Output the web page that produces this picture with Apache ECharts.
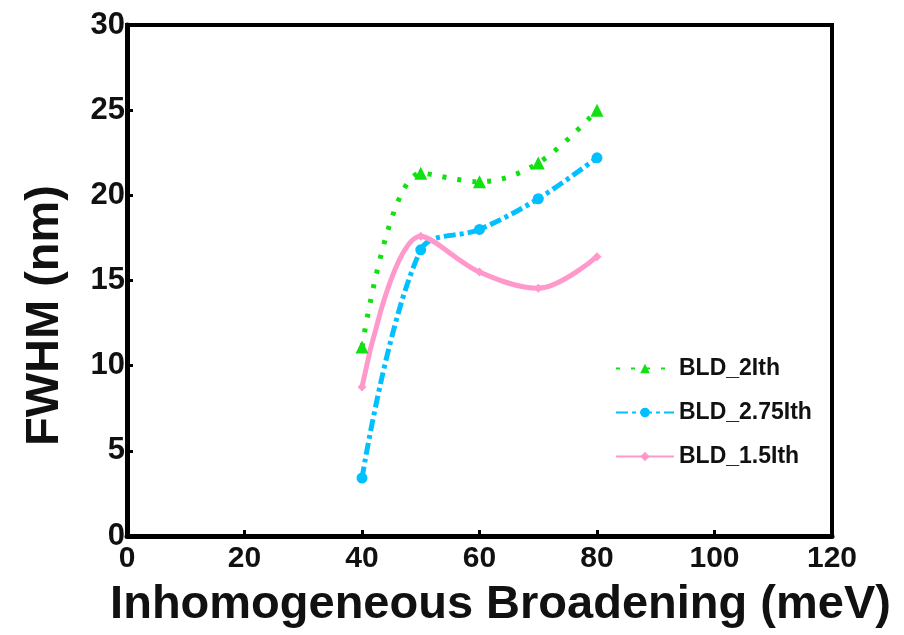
<!DOCTYPE html>
<html><head><meta charset="utf-8">
<script src="https://cdn.jsdelivr.net/npm/echarts@6/dist/echarts.min.js"></script>
<style>html,body{margin:0;padding:0;background:#fff}#c{width:904px;height:635px}</style>
</head><body><div id="c"></div>
<script>
var xValues = [40, 50, 60, 70, 80];
var bld2 = [11.1, 21.3, 20.8, 21.9, 25.0];
var bld275 = [3.4, 16.8, 18.0, 19.8, 22.2];
var bld15 = [8.75, 17.6, 15.5, 14.55, 16.4];
var seriesNames = ['BLD_2Ith', 'BLD_2.75Ith', 'BLD_1.5Ith'];

function pairs(ys){ return xValues.map(function(x,i){ return [x, ys[i]]; }); }
var font = '"Liberation Sans", Arial, sans-serif';
var chart = echarts.init(document.getElementById('c'), null, {renderer:'canvas'});
chart.setOption({
  animation: false,
  backgroundColor: '#fff',
  grid: {left:127, right:72, top:25, bottom:99, show:true, borderColor:'#000', borderWidth:4, backgroundColor:'transparent'},
  legend: {
    orient:'vertical', left:610, top:352, itemGap:21, itemWidth:58, itemHeight:12,
    textStyle:{fontFamily:font, fontWeight:'bold', fontSize:23, color:'#111'},
    data: seriesNames
  },
  xAxis: {
    type:'value', min:0, max:120, interval:20,
    name:'Inhomogeneous Broadening (meV)', nameLocation:'middle', nameGap:46,
    nameTextStyle:{fontFamily:font, fontWeight:'bold', fontSize:47, color:'#111', padding:[0,0,0,42]},
    axisLine:{lineStyle:{color:'#000', width:5}},
    axisTick:{inside:true, length:6, lineStyle:{width:3, color:'#000'}},
    axisLabel:{fontFamily:font, fontWeight:'bold', fontSize:30, color:'#111', margin:8},
    splitLine:{show:false}
  },
  yAxis: {
    type:'value', min:0, max:30, interval:5,
    name:'FWHM (nm)', nameLocation:'middle', nameGap:58,
    nameTextStyle:{fontFamily:font, fontWeight:'bold', fontSize:47, color:'#111', padding:[0,70,0,0]},
    axisLine:{show:true, lineStyle:{color:'#000', width:5}},
    axisTick:{show:true, inside:true, length:6, lineStyle:{width:3, color:'#000'}},
    axisLabel:{fontFamily:font, fontWeight:'bold', fontSize:31, color:'#111', margin:2},
    splitLine:{show:false}
  },
  series: [
    {name:seriesNames[0], type:'line', smooth:0.35, data:pairs(bld2),
     symbol:'triangle', symbolSize:13,
     itemStyle:{color:'#11e011'},
     lineStyle:{color:'#11e011', width:5, type:[4,11]}},
    {name:seriesNames[1], type:'line', smooth:0.35, data:pairs(bld275),
     symbol:'circle', symbolSize:11,
     itemStyle:{color:'#00c0ff'},
     lineStyle:{color:'#00c0ff', width:5, type:[12,4,4,4]}},
    {name:seriesNames[2], type:'line', smooth:0.35, data:pairs(bld15),
     symbol:'diamond', symbolSize:9,
     itemStyle:{color:'#ff99cc'},
     lineStyle:{color:'#ff99cc', width:5, type:'solid'}}
  ]
});
</script></body></html>
